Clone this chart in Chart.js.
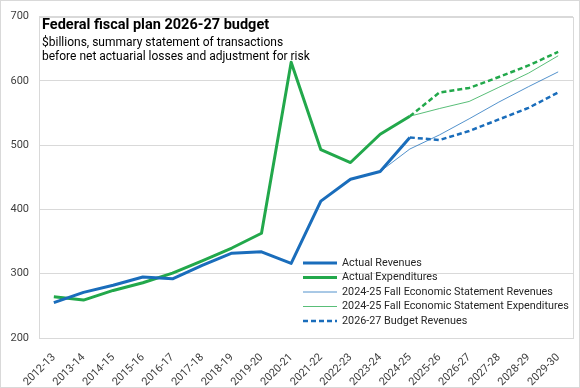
<!DOCTYPE html>
<html>
<head>
<meta charset="utf-8">
<script src="https://cdn.jsdelivr.net/npm/chart.js@4/dist/chart.umd.min.js"></script>
<style>
    html, body { margin: 0; padding: 0; background: #fff; }
    #wrap { width: 580px; height: 388px; position: relative; }
</style>
</head>
<body>
<div id="wrap"><canvas id="fiscalChart"></canvas></div>
<script>
// Fiscal years (category axis)
const years = ['2012-13', '2013-14', '2014-15', '2015-16', '2016-17', '2017-18',
    '2018-19', '2019-20', '2020-21', '2021-22', '2022-23', '2023-24', '2024-25',
    '2025-26', '2026-27', '2027-28', '2028-29', '2029-30'];

// $billions
const actualRevenues = [255, 271, 282, 295, 292, 313, 332, 334, 316, 413, 447, 459, 512,
    null, null, null, null, null];
const actualExpenditures = [264, 259, 274, 286, 301, 320, 340, 363, 629, 493, 473, 517, 545,
    null, null, null, null, null];
const fesRevenues = [null, null, null, null, null, null, null, null, null, null, null, 459, 494,
    516, 541, 567, 591, 614];
const fesExpenditures = [null, null, null, null, null, null, null, null, null, null, null, null, 545,
    557, 568, 590, 612, 639];
const budgetRevenues = [null, null, null, null, null, null, null, null, null, null, null, null, 512,
    508, 522, 540, 558, 582];
const budgetExpenditures = [null, null, null, null, null, null, null, null, null, null, null, null, 545,
    582, 589, 606, 624, 645];

const yTicks = [200, 300, 400, 500, 600, 700];

const BLUE = '#1a6dbb';
const GREEN = '#22a84b';
const FONT = 'Roboto, "Liberation Sans", sans-serif';

/**
 * Background, outer frame, plot border and title inside the plot area
 */
const framePlugin = {
    id: 'frame',
    beforeDraw(chart) {
        const ctx = chart.ctx;
        ctx.save();
        ctx.fillStyle = '#fff';
        ctx.fillRect(0, 0, chart.width, chart.height);
        ctx.strokeStyle = '#d9d9d9';
        ctx.lineWidth = 1;
        ctx.strokeRect(0.5, 0.5, chart.width - 1, chart.height - 1);
        ctx.restore();
    },
    beforeDatasetsDraw(chart) {
        const ctx = chart.ctx;
        const a = chart.chartArea;
        ctx.save();
        ctx.strokeStyle = '#d9d9d9';
        ctx.lineWidth = 1;
        ctx.strokeRect(Math.round(a.left) + 0.5, Math.round(a.top) + 0.5,
            Math.round(a.right - a.left), Math.round(a.bottom - a.top));

        ctx.fillStyle = '#000';
        ctx.textBaseline = 'alphabetic';
        ctx.font = 'bold 14.5px ' + FONT;
        ctx.fillText('Federal fiscal plan 2026-27 budget', a.left + 3, a.top + 12);
        ctx.font = '12px ' + FONT;
        ctx.fillText('$billions, summary statement of transactions', a.left + 3, a.top + 29);
        ctx.fillText('before net actuarial losses and adjustment for risk', a.left + 3, a.top + 43);
        ctx.restore();
    }
};

/**
 * Legend drawn inside the plot, lower right
 */
const legendPlugin = {
    id: 'insideLegend',
    afterDatasetsDraw(chart) {
        const ctx = chart.ctx;
        const x0 = 303, x1 = 337, tx = 342;
        let y = 263;
        ctx.save();
        ctx.font = '10.8px ' + FONT;
        ctx.textBaseline = 'middle';
        chart.data.datasets.forEach(ds => {
            if (ds.inLegend === false) return;
            ctx.beginPath();
            ctx.strokeStyle = ds.borderColor;
            ctx.lineWidth = ds.borderWidth;
            ctx.setLineDash(ds.borderDash || []);
            ctx.moveTo(x0, y);
            ctx.lineTo(x1, y);
            ctx.stroke();
            ctx.setLineDash([]);
            ctx.fillStyle = '#262626';
            ctx.fillText(ds.label, tx, y);
            y += 14.5;
        });
        ctx.restore();
    }
};

let fiscalChart = null;

function createFiscalChart() {
    const ctx = document.getElementById('fiscalChart').getContext('2d');

    fiscalChart = new Chart(ctx, {
        type: 'line',
        data: {
            labels: years,
            datasets: [
                {
                    label: 'Actual Revenues',
                    data: actualRevenues,
                    borderColor: BLUE,
                    borderWidth: 3
                },
                {
                    label: 'Actual Expenditures',
                    data: actualExpenditures,
                    borderColor: GREEN,
                    borderWidth: 3
                },
                {
                    label: '2024-25 Fall Economic Statement Revenues',
                    data: fesRevenues,
                    borderColor: 'rgba(26, 109, 187, 0.75)',
                    borderWidth: 1
                },
                {
                    label: '2024-25 Fall Economic Statement Expenditures',
                    data: fesExpenditures,
                    borderColor: 'rgba(34, 168, 75, 0.75)',
                    borderWidth: 1
                },
                {
                    label: '2026-27 Budget Revenues',
                    data: budgetRevenues,
                    borderColor: BLUE,
                    borderWidth: 2.5,
                    borderDash: [5, 3]
                },
                {
                    label: '2026-27 Budget Expenditures',
                    data: budgetExpenditures,
                    borderColor: GREEN,
                    borderWidth: 2.5,
                    borderDash: [5, 3],
                    inLegend: false
                }
            ]
        },
        options: {
            responsive: false,
            animation: false,
            layout: {
                padding: { top: 6, right: 7, left: 9, bottom: 2 }
            },
            elements: {
                point: { radius: 0 },
                line: { tension: 0, borderJoinStyle: 'round', borderCapStyle: 'butt' }
            },
            plugins: {
                legend: { display: false },
                tooltip: { enabled: false }
            },
            scales: {
                y: {
                    min: 200,
                    max: 700,
                    afterBuildTicks: scale => {
                        scale.ticks = yTicks.map(v => ({ value: v }));
                    },
                    afterFit: scale => { scale.width = 30; },
                    border: { display: false },
                    grid: {
                        color: '#d9d9d9',
                        drawTicks: false
                    },
                    ticks: {
                        color: '#404040',
                        padding: 10,
                        font: { family: FONT, size: 11 }
                    }
                },
                x: {
                    offset: true,
                    afterFit: scale => { scale.height = 48; },
                    border: { display: false },
                    grid: { display: false },
                    ticks: {
                        color: '#404040',
                        minRotation: 45,
                        maxRotation: 45,
                        autoSkip: false,
                        padding: 5,
                        labelOffset: 0,
                        font: { family: FONT, size: 11 }
                    }
                }
            }
        },
        plugins: [framePlugin, legendPlugin]
    });
}

const canvas = document.getElementById('fiscalChart');
canvas.width = 580;
canvas.height = 388;
createFiscalChart();
</script>
</body>
</html>
